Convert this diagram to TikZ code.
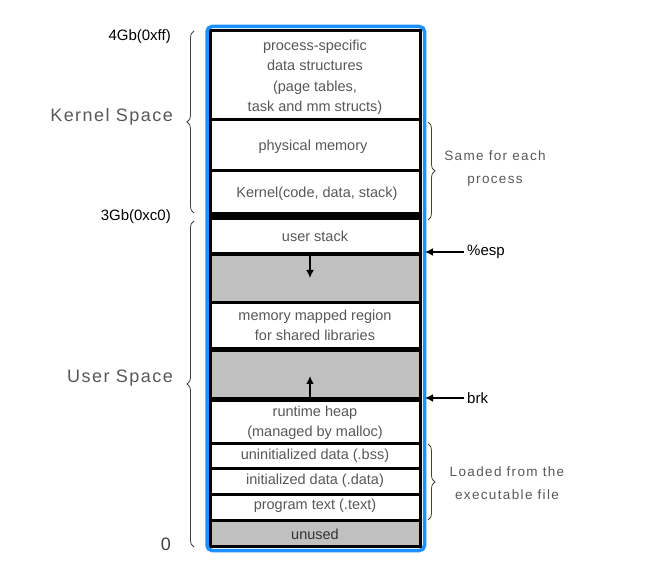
\documentclass[tikz,border=0pt]{standalone}
\usepackage{fontspec}
\setmainfont{Liberation Sans}
\newfontfamily\spacedfont[LetterSpace=8]{Liberation Sans}
\newfontfamily\notefont[LetterSpace=10]{Liberation Sans}
\usetikzlibrary{decorations.pathreplacing,arrows.meta}
\definecolor{txtgray}{HTML}{585858}
\definecolor{fillgray}{HTML}{C0C0C0}
\definecolor{bordblue}{HTML}{1E90FF}
\begin{document}
\begin{tikzpicture}[x=1pt,y=1pt,
  memtxt/.style={font=\fontsize{14.5}{20.5}\selectfont, text=txtgray, inner sep=0pt, align=center},
  addr/.style={font=\fontsize{15}{16}\selectfont, anchor=east, inner sep=0pt},
  spacelbl/.style={font=\spacedfont\fontsize{18}{20}\selectfont, text=txtgray, anchor=east, inner sep=0pt},
  note/.style={font=\notefont\fontsize{13.5}{23}\selectfont, text=txtgray, align=center, inner sep=0pt},
  ptrlbl/.style={font=\fontsize{15}{16}\selectfont, anchor=west, inner sep=0pt},
  sep/.style={line width=3pt},
  bracepath/.style={decorate, decoration={brace, amplitude=7pt}, draw=black!75, line width=0.8pt},
  ptr/.style={-{Latex[length=8pt,width=8pt]}, line width=2.5pt}
]
\useasboundingbox (0,0) rectangle (654,-580);
% region fills
\fill[white] (210.5,-30.5) rectangle (420,-546.5);
\fill[fillgray] (210.5,-255) rectangle (420,-303);
\fill[fillgray] (210.5,-350) rectangle (420,-399);
\fill[fillgray] (210.5,-520) rectangle (420,-546.5);
% separators
\draw[sep] (210.5,-120) -- (420,-120);
\draw[sep] (210.5,-171) -- (420,-171);
\draw[line width=8pt] (210.5,-216) -- (420,-216);
\draw[line width=4pt] (210.5,-254) -- (420,-254);
\draw[sep] (210.5,-303) -- (420,-303);
\draw[line width=5pt] (210.5,-349.5) -- (420,-349.5);
\draw[line width=5pt] (210.5,-399.5) -- (420,-399.5);
\draw[sep] (210.5,-443) -- (420,-443);
\draw[sep] (210.5,-468) -- (420,-468);
\draw[sep] (210.5,-494) -- (420,-494);
\draw[sep] (210.5,-520) -- (420,-520);
% outlines
\draw[line width=3pt] (210.5,-30.5) rectangle (420,-546.5);
\draw[bordblue, line width=3.5pt, rounded corners=5pt] (207,-26.5) rectangle (424.5,-550.5);
% region texts
\node[memtxt] (procspec) at (315,-77) {process-specific\\data structures\\(page tables,\\task and mm structs)};
\node[memtxt] (physmem) at (313,-147) {physical memory};
\node[memtxt] (kernel) at (317,-194) {Kernel(code, data, stack)};
\node[memtxt] (ustack) at (315,-236) {user stack};
\node[memtxt] (mmap) at (315,-325.5) {memory mapped region\\for shared libraries};
\node[memtxt] (heap) at (315,-422.5) {runtime heap\\(managed by malloc)};
\node[memtxt] (bss) at (315,-456) {uninitialized data (.bss)};
\node[memtxt] (data) at (315,-481) {initialized data (.data)};
\node[memtxt] (text) at (315,-506) {program text (.text)};
\node[memtxt, text=black!80] (unused) at (315,-534.5) {unused};
% growth arrows
\coordinate (downS) at (310,-256);
\coordinate (downE) at (310,-278);
\coordinate (upS) at (310,-401);
\coordinate (upE) at (310,-376);
\draw[ptr] (downS) -- (downE);
\draw[ptr] (upS) -- (upE);
% left labels
\node[addr] (a4g) at (171,-37) {4Gb(0xff)};
\node[spacelbl] (kspace) at (173,-117) {Kernel Space};
\node[addr] (a3g) at (171,-217) {3Gb(0xc0)};
\node[spacelbl] (uspace) at (173,-378) {User Space};
\node[font=\fontsize{18}{18}\selectfont, text=black!75, anchor=east, inner sep=0pt] (a0) at (171,-544) {0};
% left braces
\coordinate (kbB) at (194,-213);
\coordinate (kbT) at (194,-31);
\coordinate (ubB) at (194,-547);
\coordinate (ubT) at (194,-221);
\draw[bracepath] (kbB) -- (kbT);
\draw[bracepath] (ubB) -- (ubT);
% right braces
\coordinate (sbT) at (428,-122);
\coordinate (sbB) at (428,-220);
\coordinate (lbT) at (428,-444);
\coordinate (lbB) at (428,-520);
\draw[bracepath] (sbT) -- (sbB);
\draw[bracepath] (lbT) -- (lbB);
\node[note] (same) at (495,-168.5) {Same for each\\process};
\node[note] (loaded) at (507,-483.5) {Loaded from the\\executable file};
% pointers
\node[ptrlbl] (esp) at (467,-252) {\%esp};
\node[ptrlbl] (brk) at (467,-398) {brk};
\coordinate (espT) at (425,-252);
\coordinate (brkT) at (425,-398);
\draw[ptr] (esp.west) ++(-3,0) -- (espT);
\draw[ptr] (brk.west) ++(-3,0) -- (brkT);
\end{tikzpicture}
\end{document}
